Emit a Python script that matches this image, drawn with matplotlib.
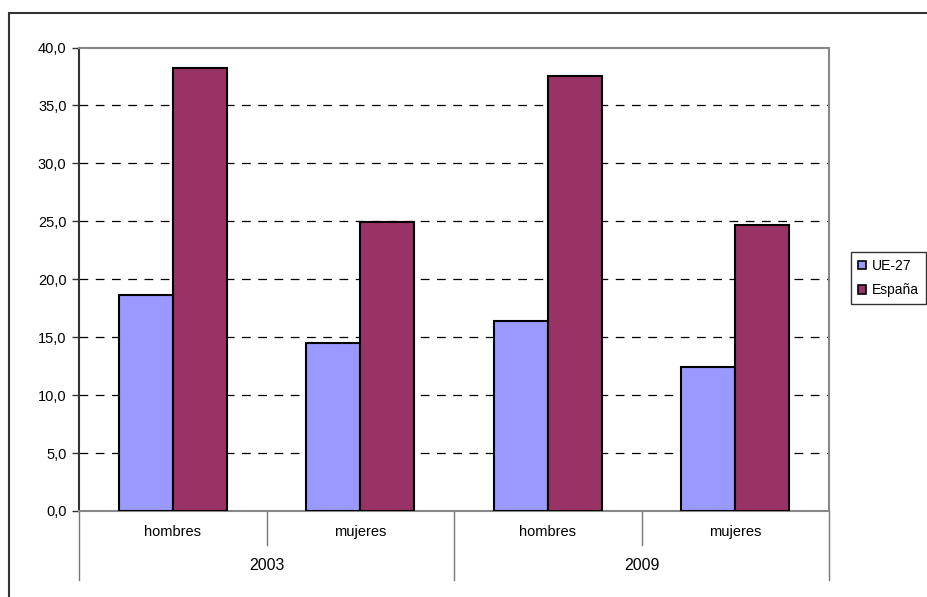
import matplotlib.pyplot as plt
import matplotlib.patches as patches
import numpy as np

plt.rcParams['font.family'] = ['Liberation Sans', 'DejaVu Sans']

# data
years = ['2003', '2009']
sexes = ['hombres', 'mujeres']
ue27 = [18.6, 14.5, 16.4, 12.4]
espana = [38.2, 24.9, 37.5, 24.7]
series_names = ['UE-27', 'España']
colors = ['#9999ff', '#993366']

W, H = 927, 597
fig = plt.figure(figsize=(W/100, H/100), dpi=100)

# plot area in pixels: x 79..829, y 47.5..511
ax = fig.add_axes([79/W, (H-511)/H, 750/W, 463.5/H])

x = np.arange(len(ue27))
bw = 54/187.5
ax.bar(x - bw/2, ue27, bw, color=colors[0], edgecolor='black', linewidth=1.5,
       label=series_names[0], zorder=3)
ax.bar(x + bw/2, espana, bw, color=colors[1], edgecolor='black', linewidth=1.5,
       label=series_names[1], zorder=3)

ax.set_xlim(-0.5, len(ue27) - 0.5)
ax.set_ylim(0, 40)
ax.set_yticks(np.arange(0, 41, 5))
ax.set_yticklabels([f'{v:.1f}'.replace('.', ',') for v in np.arange(0, 41, 5)],
                   fontsize=10.5)
ax.tick_params(axis='y', length=5, width=1, color='#333333', pad=4)
ax.set_xticks([])

# dashed gridlines
for v in np.arange(5, 40, 5):
    ax.axhline(v, color='black', linewidth=0.9, linestyle=(0, (7, 6)), zorder=1)

ax.spines['left'].set_color('#333333')
ax.spines['left'].set_linewidth(1.5)
for s in ['top', 'right', 'bottom']:
    ax.spines[s].set_color('#888888')
    ax.spines[s].set_linewidth(1.5)

# two-level category axis below the bars
ph = 463.5
for i in range(len(ue27)):
    ax.text(i, -21/ph, sexes[i % 2], transform=ax.get_xaxis_transform(),
            ha='center', va='center', fontsize=10.5)
for i, yr in enumerate(years):
    ax.text(2*i + 0.5, -55/ph, yr, transform=ax.get_xaxis_transform(),
            ha='center', va='center', fontsize=11.5)

# separators: short between sexes, long between years
for xs in [0.5, 2.5]:
    ax.plot([xs, xs], [0, -34/ph], transform=ax.get_xaxis_transform(),
            color='#777777', linewidth=1, clip_on=False)
for xs in [-0.5, 1.5, 3.5]:
    ax.plot([xs, xs], [0, -69/ph], transform=ax.get_xaxis_transform(),
            color='#777777', linewidth=1, clip_on=False)

leg = fig.legend(loc='upper left', bbox_to_anchor=(851/W, 1 - 252/H),
                 frameon=True, fancybox=False, fontsize=10, handlelength=0.6,
                 handleheight=0.6, handletextpad=0.4, borderpad=0.5,
                 labelspacing=0.75, borderaxespad=0)
leg.get_frame().set_edgecolor('black')
leg.get_frame().set_linewidth(1)
for h in leg.legend_handles:
    h.set_linewidth(1.2)

# outer chart frame
fig.patches.append(patches.Rectangle((9/W, -0.01), 1.0, 1 - 13/H + 0.01,
                                     transform=fig.transFigure, fill=False,
                                     edgecolor='#333333', linewidth=1.5))

fig.savefig('out.png', dpi=100)
